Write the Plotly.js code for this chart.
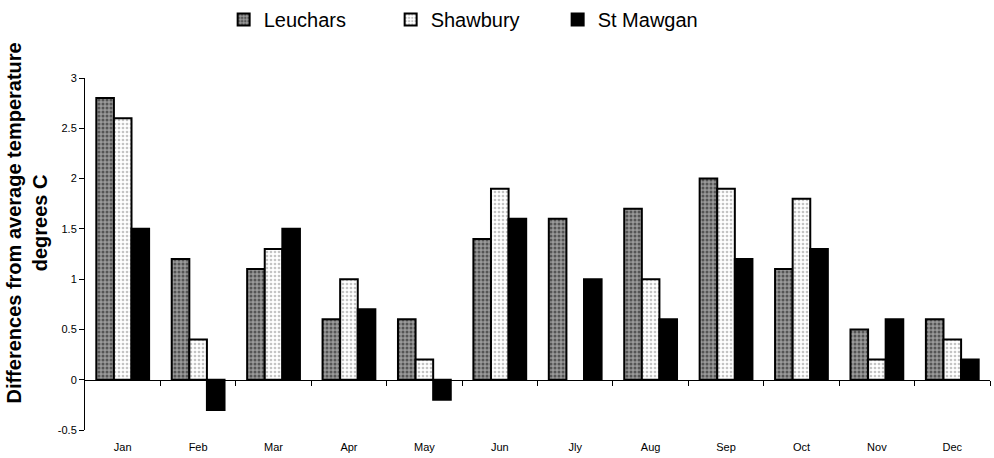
<!DOCTYPE html>
<html>
<head>
<meta charset="utf-8">
<script src="https://cdn.plot.ly/plotly-3.0.1.min.js"></script>
<style>html,body{margin:0;padding:0;background:#fff;}#chart{width:994px;height:458px;}</style>
</head>
<body>
<div id="chart"></div>
<script>
const months = ["Jan","Feb","Mar","Apr","May","Jun","Jly","Aug","Sep","Oct","Nov","Dec"];
const leuchars = [2.8, 1.2, 1.1, 0.6, 0.6, 1.4, 1.6, 1.7, 2.0, 1.1, 0.5, 0.6];
const shawbury = [2.6, 0.4, 1.3, 1.0, 0.2, 1.9, null, 1.0, 1.9, 1.8, 0.2, 0.4];
const stMawgan = [1.5, -0.3, 1.5, 0.7, -0.2, 1.6, 1.0, 0.6, 1.2, 1.3, 0.6, 0.2];
const yTicks = [-0.5, 0, 0.5, 1, 1.5, 2, 2.5, 3];
const yTickText = ["-0.5", "0", "0.5", "1", "1.5", "2", "2.5", "3"];
const yTitle = "<b>Differences from average temperature<br>degrees C</b>";

const FONT = "Liberation Sans, Arial, sans-serif";
const xIdx = months.map((m, i) => i);

const traces = [
  {type: "bar", name: "Leuchars", x: xIdx, y: leuchars,
   marker: {color: "#8a8a8a", line: {color: "#000", width: 2},
            pattern: {shape: ".", bgcolor: "#9a9a9a", fgcolor: "#555", size: 4, solidity: 0.45}}},
  {type: "bar", name: "Shawbury", x: xIdx, y: shawbury,
   marker: {color: "#f0f0f0", line: {color: "#000", width: 2},
            pattern: {shape: ".", bgcolor: "#ffffff", fgcolor: "#c4c4c4", size: 4, solidity: 0.35}}},
  {type: "bar", name: "St Mawgan", x: xIdx, y: stMawgan,
   marker: {color: "#000", line: {color: "#000", width: 2}}},
  {type: "scatter", mode: "none", x: xIdx, y: xIdx.map(() => 0), xaxis: "x2", yaxis: "y",
   showlegend: false, hoverinfo: "skip"}
];

const layout = {
  width: 994, height: 458,
  margin: {l: 85, r: 4, t: 78, b: 28},
  paper_bgcolor: "#fff", plot_bgcolor: "#fff",
  font: {family: FONT, size: 11, color: "#000"},
  barmode: "group", bargap: 0.3, bargroupgap: 0,
  showlegend: true,
  legend: {orientation: "h", x: 0.43, xanchor: "center", yref: "container", y: 1.0, yanchor: "top",
           font: {family: FONT, size: 20, color: "#000"}, entrywidth: 122, traceorder: "normal"},
  xaxis: {type: "linear", range: [-0.5, 11.5], tickmode: "array", tickvals: xIdx, ticktext: months,
          showline: false, showgrid: false, zeroline: false, ticks: "", ticklen: 0,
          ticklabelstandoff: 9, automargin: false,
          tickfont: {family: FONT, size: 11}, fixedrange: true},
  xaxis2: {type: "linear", overlaying: "x", anchor: "free", position: 0.5 / 3.5,
           range: [-0.5, 11.5], tickmode: "array", tickvals: xIdx.map(i => i + 0.5),
           showticklabels: false, ticks: "outside", ticklen: 5, tickcolor: "#000",
           showline: true, linecolor: "#000", linewidth: 1, showgrid: false, zeroline: false, side: "bottom"},
  yaxis: {range: [-0.5, 3], tickmode: "array", tickvals: yTicks, ticktext: yTickText,
          ticks: "outside", ticklen: 5, tickcolor: "#000", showline: true, linecolor: "#000", linewidth: 1,
          showgrid: false, zeroline: false, tickfont: {family: FONT, size: 11}, automargin: false},
  annotations: [{text: yTitle, xref: "paper", yref: "paper", x: -0.0646, y: 0.588,
                 xanchor: "center", yanchor: "middle", textangle: -90, showarrow: false,
                 font: {family: FONT, size: 20, color: "#000"}}]
};

Plotly.newPlot("chart", traces, layout, {displayModeBar: false, staticPlot: true});
</script>
</body>
</html>
